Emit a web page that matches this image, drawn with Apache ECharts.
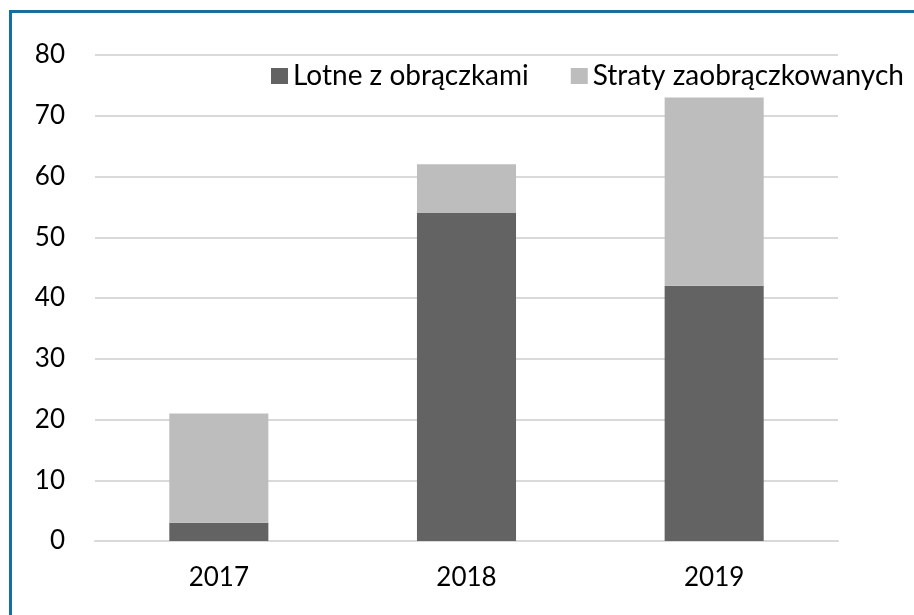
<!DOCTYPE html>
<html>
<head>
<meta charset="utf-8">
<script src="https://cdn.jsdelivr.net/npm/echarts@6/dist/echarts.min.js"></script>
<style>
  html, body { margin: 0; padding: 0; background: #fff; }
  #chart { width: 914px; height: 615px; }
</style>
</head>
<body>
<div id="chart"></div>
<script>
const years = ['2017', '2018', '2019'];
const lotne = [3, 54, 42];
const straty = [18, 8, 31];
const seriesNames = ['Lotne z obrączkami', 'Straty zaobrączkowanych'];
const colors = ['#636363', '#bdbdbd'];

const chart = echarts.init(document.getElementById('chart'));

const option = {
  animation: false,
  color: colors,
  textStyle: { fontFamily: 'Lato', color: '#000' },
  graphic: [{
    type: 'polyline',
    shape: { points: [[10.5, 700], [10.5, 11.5], [1000, 11.5]] },
    style: { stroke: '#17709a', lineWidth: 3, fill: null }
  }],
  legend: {
    left: 266,
    top: 56,
    itemWidth: 17,
    itemHeight: 16,
    itemGap: 42,
    icon: 'rect',
    textStyle: { fontSize: 28, lineHeight: 30, fontFamily: 'Lato', color: '#000' },
    data: seriesNames
  },
  grid: { left: 95, right: 76, top: 55, bottom: 74 },
  xAxis: {
    type: 'category',
    data: years,
    axisLine: { lineStyle: { color: '#d9d9d9', width: 2 } },
    axisTick: { show: false },
    axisLabel: { fontSize: 26, color: '#000', margin: 24 }
  },
  yAxis: {
    type: 'value',
    min: 0,
    max: 80,
    interval: 10,
    axisLine: { show: false },
    axisTick: { show: false },
    axisLabel: { fontSize: 26, color: '#000', margin: 30 },
    splitLine: { lineStyle: { color: '#d9d9d9', width: 2 } }
  },
  series: [
    {
      name: seriesNames[0],
      type: 'bar',
      stack: 'total',
      barWidth: '40%',
      data: lotne
    },
    {
      name: seriesNames[1],
      type: 'bar',
      stack: 'total',
      barWidth: '40%',
      data: straty
    }
  ]
};

chart.setOption(option);
</script>
</body>
</html>
